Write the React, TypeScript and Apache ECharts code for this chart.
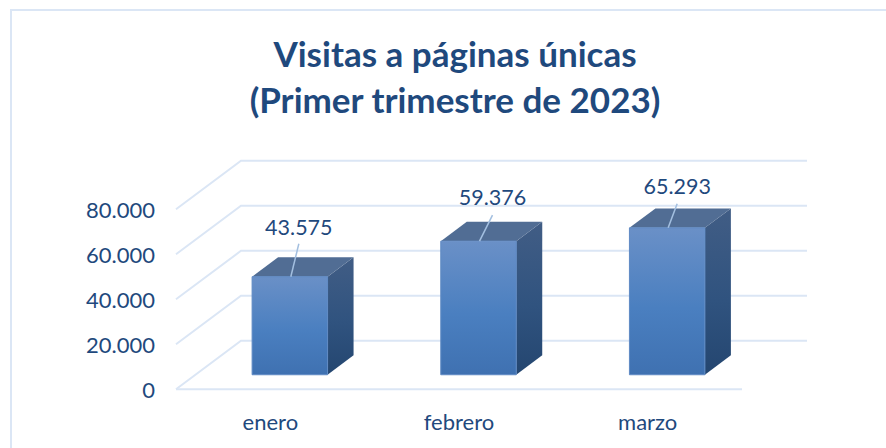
import React, { useEffect, useRef } from "react";
import * as echarts from "echarts";

const categories = ["enero", "febrero", "marzo"];
const visits = [43575, 59376, 65293];
const wallTicks = [0, 20000, 40000, 60000, 80000];
const titleText = "Visitas a páginas únicas\n(Primer trimestre de 2023)";

const FONT = "Lato, Carlito, 'Open Sans', sans-serif";
const DEPTH_X = 65;
const DEPTH_Y = -48.5;
const BAR_OFFSET = 0.3;
const BAR_DEPTH = 0.4;
const LEADER_TOPS = [[9, -33], [14, -26], [10, -24]];
const LABEL_SHIFTS = [[9, -50], [14, -44], [10, -42]];

const fmt = (v: number) => String(v).replace(/\B(?=(\d{3})+$)/g, ".");

export default function App() {
  const ref = useRef<HTMLDivElement>(null);
  useEffect(() => {
    document.body.style.margin = "0";
    const chart = echarts.init(ref.current!, undefined, { renderer: "svg" });
    const gridLine = "#dbe6f5";
    chart.setOption({
      animation: false,
      backgroundColor: "#fff",
      title: {
        text: titleText,
        left: 450,
        top: 25,
        textAlign: "center",
        textStyle: { fontFamily: FONT, fontWeight: "bold", fontSize: 35, lineHeight: 46, color: "#1f497d" },
      },
      grid: { left: 176, right: 144, top: 209.3, bottom: 58.7 },
      xAxis: {
        type: "category",
        data: categories,
        axisLine: { show: false },
        axisTick: { show: false },
        axisLabel: { fontFamily: FONT, fontSize: 22, color: "#1f497d", margin: 21 },
      },
      yAxis: {
        type: "value",
        min: 0,
        max: 80000,
        interval: 20000,
        axisLine: { show: false },
        axisTick: { show: false },
        splitLine: { show: false },
        axisLabel: { fontFamily: FONT, fontSize: 22, color: "#1f497d", margin: 21, formatter: (v: number) => fmt(v) },
      },
      graphic: [
        {
          type: "polyline",
          silent: true,
          shape: { points: [[11, 448], [11, 10], [886, 10]] },
          style: { stroke: gridLine, lineWidth: 2, fill: "none" },
        },
      ],
      series: [
        {
          type: "custom",
          clip: false,
          silent: true,
          z: 1,
          data: wallTicks.map((v) => [0, v]),
          encode: { x: 0, y: 1 },
          renderItem: (params: any, api: any) => {
            const v = api.value(1);
            const sys = params.coordSys;
            const y = api.coord([0, v])[1];
            const x0 = sys.x;
            const x1 = sys.x + sys.width;
            const style = { stroke: gridLine, lineWidth: 2, fill: "none" };
            const children: any[] = [
              {
                type: "polyline",
                shape: { points: [[x0, y], [x0 + DEPTH_X, y + DEPTH_Y], [x1 + DEPTH_X, y + DEPTH_Y]] },
                style,
              },
            ];
            if (v === 0) {
              children.push({
                type: "line",
                shape: { x1: x0, y1: y, x2: x1, y2: y },
                style,
              });
            }
            return { type: "group", children };
          },
        },
        {
          type: "custom",
          clip: false,
          silent: true,
          z: 2,
          data: categories.map((_, i) => [i, visits[i]]),
          encode: { x: 0, y: 1 },
          renderItem: (params: any, api: any) => {
            const i = api.value(0);
            const v = api.value(1);
            const top = api.coord([i, v]);
            const base = api.coord([i, 0]);
            const w = api.size([1, 0])[0] * 0.4;
            const ox = DEPTH_X * BAR_OFFSET;
            const oy = DEPTH_Y * BAR_OFFSET;
            const l = top[0] - w / 2 + ox;
            const r = l + w;
            const t = top[1] + oy;
            const b = base[1] + oy;
            const dx = DEPTH_X * BAR_DEPTH;
            const dy = DEPTH_Y * BAR_DEPTH;
            const cx = (l + r) / 2;
            const [lx, ly] = LEADER_TOPS[i];
            const [tx, ty] = LABEL_SHIFTS[i];
            return {
              type: "group",
              children: [
                {
                  type: "polygon",
                  shape: { points: [[r, t], [r + dx, t + dy], [r + dx, b + dy], [r, b]] },
                  style: {
                    fill: new echarts.graphic.LinearGradient(0, 0, 0, 1, [
                      { offset: 0, color: "#415d85" },
                      { offset: 0.55, color: "#30537f" },
                      { offset: 1, color: "#244670" },
                    ]),
                  },
                },
                {
                  type: "polygon",
                  shape: { points: [[l, t], [l + dx, t + dy], [r + dx, t + dy], [r, t]] },
                  style: { fill: "#516d94" },
                },
                {
                  type: "rect",
                  shape: { x: l, y: t, width: w, height: b - t },
                  style: {
                    fill: new echarts.graphic.LinearGradient(0, 0, 0, 1, [
                      { offset: 0, color: "#6a90c7" },
                      { offset: 0.55, color: "#4a7fc0" },
                      { offset: 1, color: "#3f71b1" },
                    ]),
                    stroke: "#5f8ac4",
                    lineWidth: 1,
                  },
                },
                {
                  type: "line",
                  shape: { x1: cx + 1, y1: t, x2: cx + lx, y2: t + ly },
                  style: { stroke: "#a3bfe0", lineWidth: 1.5 },
                },
                {
                  type: "text",
                  x: cx + tx,
                  y: t + ty,
                  style: {
                    text: fmt(v),
                    fontFamily: FONT,
                    fontSize: 21.5,
                    fill: "#1f497d",
                    align: "center",
                    verticalAlign: "middle",
                  },
                },
              ],
            };
          },
        },
      ],
    });
    return () => chart.dispose();
  }, []);
  return <div ref={ref} style={{ width: 886, height: 448 }} />;
}
